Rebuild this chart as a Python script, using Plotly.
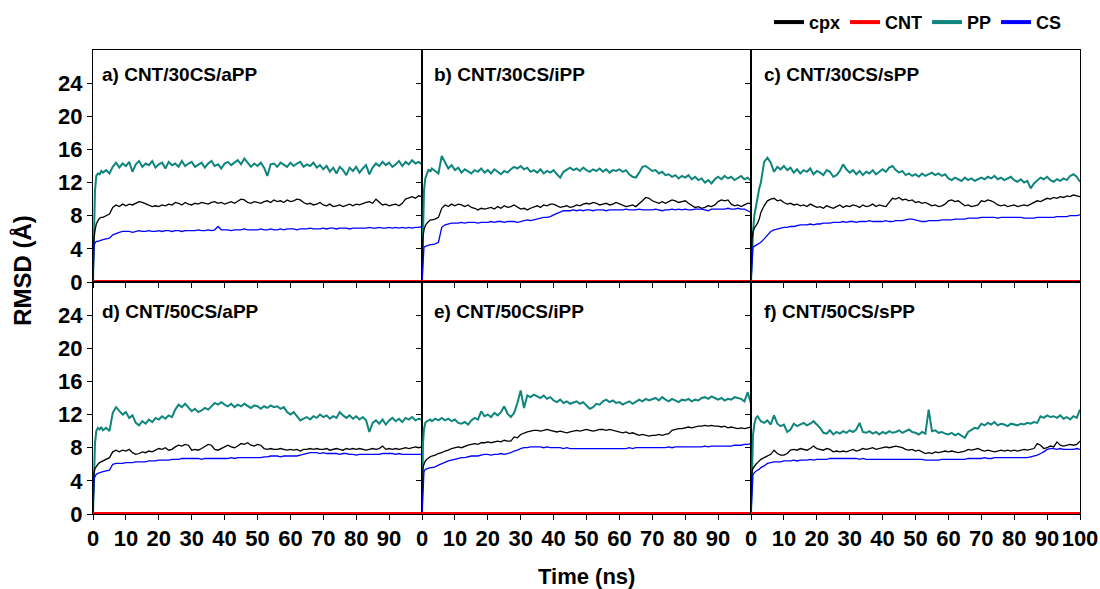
import plotly.graph_objects as go
from plotly.subplots import make_subplots

# ---------------- data ----------------
TIME = [0, 0.3, 0.6, 1, 1.5, 2, 2.5] + list(range(3, 101))

CNT_TIME = [0, 100]
CNT_RMSD = [0.1, 0.1]

# panel a) CNT/30CS/aPP
A_PP = [0.0, 6.5, 11.0, 12.8, 13.1, 13.0, 13.4,
        13.2, 13.5, 13.1, 13.9, 14.4, 13.8, 14.3,
        14.0, 14.5, 13.3, 14.2, 14.6, 13.9, 14.3, 14.1, 14.6, 13.8,
        14.2, 14.4, 13.7, 14.5, 14.1, 14.3, 13.9, 14.6, 14.0, 14.3,
        14.5, 13.9, 14.2, 14.4, 13.8, 14.3, 14.6, 14.0, 14.2, 13.7,
        14.3, 14.5, 14.1, 14.4, 14.7, 14.2, 14.9, 14.4, 13.9, 14.3,
        14.0, 14.4, 13.8, 12.8, 14.2, 14.3, 13.9, 14.4, 14.1, 13.9,
        14.4, 14.0, 14.3, 14.5, 13.9, 14.2, 14.0, 14.4, 13.8, 14.1,
        13.6, 14.0, 13.3, 13.8, 13.1, 13.9, 13.5, 12.9, 13.8, 13.4,
        13.9, 13.2, 13.7, 14.1, 13.0, 13.8, 14.3, 14.0, 14.5, 14.1,
        14.4, 13.9, 14.2, 14.6, 14.0, 14.5, 14.2, 14.7, 14.3, 14.5,
        14.2]
A_CPX = [0.0, 5.2, 6.2, 7.0, 7.4, 7.7, 7.8,
         7.8, 8.0, 8.2, 9.0, 9.3, 9.1, 9.4,
         9.2, 9.4, 9.3, 9.5, 9.7, 9.6, 9.4, 9.3, 9.1, 9.2,
         9.1, 9.3, 9.2, 9.4, 9.3, 9.6, 9.5, 9.3, 9.6, 9.4,
         9.3, 9.5, 9.4, 9.6, 9.5, 9.4, 9.6, 9.7, 9.5, 9.6,
         9.4, 9.6, 9.7, 9.5, 9.8, 10.0, 9.9, 9.6, 9.5, 9.7,
         9.6, 9.5, 9.7, 9.8, 9.6, 9.9, 9.7, 9.8, 9.6, 9.9,
         9.7, 9.8, 10.0, 9.9, 9.6, 9.4, 9.5, 9.3, 9.4, 9.6,
         9.3, 9.2, 9.4, 9.1, 9.2, 9.3, 9.1, 9.3, 9.4, 9.2,
         9.4, 9.3, 9.5, 9.6, 9.7, 9.5, 10.0, 9.6, 9.3, 9.4,
         9.2, 9.3, 9.4, 9.2, 9.5, 10.0, 10.2, 10.3, 10.1, 10.4,
         10.3]
A_CS = [0.0, 4.4, 4.7, 4.9, 4.9, 5.0, 5.0,
        5.1, 5.2, 5.3, 5.7, 5.9, 6.0, 6.1,
        6.1, 6.1, 6.0, 6.1, 6.2, 6.1, 6.1, 6.2, 6.1, 6.1,
        6.2, 6.1, 6.2, 6.2, 6.1, 6.2, 6.2, 6.1, 6.2, 6.2,
        6.2, 6.2, 6.3, 6.2, 6.2, 6.3, 6.2, 6.3, 6.7, 6.3,
        6.3, 6.3, 6.2, 6.3, 6.3, 6.3, 6.4, 6.3, 6.3, 6.3,
        6.3, 6.4, 6.3, 6.3, 6.4, 6.3, 6.3, 6.4, 6.3, 6.4,
        6.4, 6.4, 6.3, 6.4, 6.4, 6.4, 6.5, 6.4, 6.4, 6.4,
        6.5, 6.4, 6.5, 6.5, 6.4, 6.5, 6.5, 6.5, 6.4, 6.5,
        6.5, 6.5, 6.5, 6.5, 6.6, 6.5, 6.5, 6.6, 6.5, 6.5,
        6.6, 6.5, 6.6, 6.5, 6.6, 6.5, 6.6, 6.5, 6.6, 6.6,
        6.7]

# panel b) CNT/30CS/iPP
B_PP = [0.0, 8.0, 11.0, 12.5, 13.2, 13.6, 13.3,
        13.7, 13.4, 13.1, 15.2, 14.5, 13.7, 14.1,
        13.5, 13.8, 13.2, 13.6, 13.4, 13.1, 13.5, 13.3, 13.7, 13.2,
        13.5, 13.1, 13.6, 13.3, 13.0, 13.4, 13.2, 13.6, 13.9, 13.7,
        14.0, 13.6, 13.8, 13.3, 13.5, 13.2, 13.6, 13.1, 13.4, 13.2,
        13.5, 13.0, 12.6, 13.3, 13.6, 13.8, 13.5, 13.7, 13.4, 13.8,
        13.5, 13.3, 13.6, 13.4, 13.7, 13.3, 13.6, 13.2, 13.5, 13.4,
        13.6, 13.3, 13.5, 13.0, 12.7, 12.6, 13.2, 13.9, 14.0, 13.7,
        13.4, 13.5, 13.1, 13.3, 12.9, 13.0, 12.7, 12.9, 12.5, 12.8,
        12.6, 12.9, 12.4, 12.7, 12.3, 12.5, 12.0, 12.3, 11.9, 12.4,
        12.7, 12.4, 12.8, 12.5, 12.7, 12.3, 12.6, 12.8, 12.4, 12.6,
        12.2]
B_CPX = [0.0, 5.5, 6.3, 6.8, 7.1, 7.3, 7.5,
         7.5, 7.6, 7.8, 8.9, 9.3, 9.1, 9.4,
         9.2, 9.4, 9.3, 9.1, 9.3, 9.0, 8.9, 8.7, 8.9, 8.8,
         8.9, 9.0, 8.8, 9.1, 8.9, 9.2, 9.0, 9.1, 9.3, 9.1,
         8.8, 8.9, 8.7, 8.9, 9.1, 9.2, 9.0, 9.3, 9.2, 9.4,
         9.4, 9.2, 9.0, 9.1, 9.2, 9.0, 9.1, 9.3, 9.2, 9.4,
         9.5, 9.4, 9.6, 9.5, 9.3, 9.4, 9.5, 9.3, 9.4, 9.6,
         9.4, 9.3, 9.1, 9.2, 9.3, 9.1, 9.4, 9.8, 10.2, 10.1,
         9.8, 9.6, 9.5, 9.7, 9.5, 9.7, 9.9, 9.8, 9.6, 9.7,
         9.8, 9.5, 9.2, 9.0, 9.1, 8.9, 9.0, 9.2, 9.1, 9.3,
         9.7, 9.9, 9.8, 9.9, 9.4, 9.2, 9.3, 9.1, 9.3, 9.5,
         9.5]
B_CS = [0.0, 2.5, 4.2, 4.3, 4.4, 4.4, 4.5,
        4.5, 4.6, 4.8, 6.6, 6.9, 7.0, 7.1,
        7.1, 7.1, 7.2, 7.1, 7.2, 7.2, 7.2, 7.1, 7.2, 7.2,
        7.2, 7.3, 7.2, 7.3, 7.3, 7.2, 7.3, 7.3, 7.3, 7.2,
        7.3, 7.4, 7.5, 7.4, 7.5, 7.6, 7.7, 7.8, 7.8, 7.9,
        8.1, 8.3, 8.5, 8.6, 8.6, 8.6, 8.7, 8.6, 8.7, 8.6,
        8.7, 8.7, 8.6, 8.7, 8.7, 8.7, 8.6, 8.7, 8.7, 8.7,
        8.7, 8.7, 8.8, 8.7, 8.7, 8.7, 8.8, 8.7, 8.7, 8.7,
        8.7, 8.8, 8.7, 8.6, 8.7, 8.7, 8.8, 8.7, 8.8, 8.7,
        8.8, 8.7, 8.7, 8.8, 8.8, 8.8, 8.7, 8.6, 8.8, 8.8,
        8.8, 8.8, 8.8, 8.9, 8.8, 8.8, 8.9, 8.8, 8.8, 8.6,
        8.4]

# panel c) CNT/30CS/sPP
C_PP = [0.0, 3.5, 6.0, 8.0, 9.2, 10.5, 11.3,
        12.0, 14.5, 15.0, 14.4, 13.3, 13.9, 13.6,
        14.0, 13.5, 13.8, 13.2, 13.6, 13.1, 13.5, 13.3, 13.7, 13.0,
        13.4, 13.2, 12.9, 13.5, 13.3, 12.7, 12.9, 13.4, 14.2, 13.6,
        13.2, 13.5, 13.0, 13.4, 12.9, 13.3, 13.1, 13.5, 13.0, 13.3,
        13.6, 13.3, 13.8, 14.0, 13.5, 13.2, 13.4, 12.9, 13.1, 12.8,
        13.0, 12.7, 13.1, 12.8, 13.0, 13.2, 12.9, 13.1, 12.8, 13.0,
        12.5, 12.3, 12.6, 12.4, 12.2, 12.6, 12.3, 12.5, 12.2, 12.4,
        12.6, 12.4, 12.7, 12.5, 12.8, 12.4, 12.6, 12.3, 12.5, 12.7,
        12.3, 12.1, 12.4, 12.0, 12.2, 11.3, 11.9, 12.3, 12.6, 12.4,
        12.7, 12.3, 12.1, 12.4, 12.2, 12.5, 12.3, 12.8, 13.0, 12.7,
        12.1]
C_CPX = [0.0, 5.2, 6.0, 6.5, 6.8, 7.1, 7.6,
         8.4, 9.2, 9.8, 10.0, 10.1, 9.8, 9.9,
         9.6, 9.4, 9.5, 9.3, 9.4, 9.2, 9.3, 9.1, 9.4, 9.2,
         9.0, 9.1, 8.9, 9.2, 9.0, 8.9, 9.1, 9.3, 9.0, 9.2,
         9.1, 9.3, 9.2, 9.0, 9.3, 9.1, 9.2, 9.4, 9.1, 9.3,
         9.2, 9.1, 9.6, 10.1, 10.0, 10.2, 9.9, 10.0, 9.8, 9.9,
         9.6, 9.7, 9.5, 9.6, 9.4, 9.2, 9.3, 9.1, 9.2, 9.4,
         9.8, 9.9, 9.7, 9.8, 9.5, 9.2, 9.3, 9.1, 9.2, 9.3,
         9.8, 9.7, 9.9, 9.8, 9.6, 9.3, 9.2, 9.3, 9.1, 9.2,
         9.3, 9.1, 9.2, 9.3, 9.2, 9.4, 9.5, 9.8, 9.7, 9.9,
         10.1, 10.0, 10.2, 10.1, 10.3, 10.2, 10.4, 10.3, 10.5, 10.4,
         10.3]
C_CS = [0.0, 2.5, 4.2, 4.3, 4.4, 4.5, 4.6,
        4.8, 5.2, 5.6, 6.1, 6.3, 6.4, 6.5,
        6.6, 6.6, 6.7, 6.7, 6.8, 6.9, 6.9, 6.9, 7.0, 6.9,
        7.0, 7.0, 7.1, 7.1, 7.1, 7.2, 7.2, 7.2, 7.3, 7.2,
        7.3, 7.3, 7.2, 7.3, 7.3, 7.3, 7.4, 7.3, 7.3, 7.3,
        7.3, 7.4, 7.3, 7.3, 7.4, 7.4, 7.4, 7.5, 7.6, 7.6,
        7.5, 7.4, 7.3, 7.3, 7.4, 7.4, 7.4, 7.4, 7.5, 7.5,
        7.5, 7.5, 7.6, 7.6, 7.6, 7.6, 7.7, 7.7, 7.7, 7.7,
        7.8, 7.8, 7.8, 7.8, 7.8, 7.7, 7.8, 7.8, 7.8, 7.8,
        7.8, 7.8, 7.8, 7.7, 7.7, 7.7, 7.7, 7.8, 7.8, 7.8,
        7.8, 7.8, 7.8, 7.9, 7.9, 7.9, 7.9, 8.0, 8.0, 8.0,
        8.1]

# panel d) CNT/50CS/aPP
D_PP = [0.0, 6.5, 8.5, 10.0, 10.4, 10.2, 10.5,
        10.1, 10.4, 10.0, 12.2, 12.9, 12.4, 12.0,
        12.3, 11.6, 11.9, 11.0, 10.7, 11.2, 10.9, 11.4, 11.1, 11.6,
        11.4, 11.8, 11.5, 11.9, 11.7, 12.6, 13.2, 12.9, 13.3, 12.8,
        12.4, 12.7, 12.3, 12.5, 12.8, 12.6, 13.0, 13.4, 13.2, 13.5,
        13.2, 13.0, 13.3, 12.9, 13.2, 13.0, 13.3, 13.1, 12.8, 13.1,
        13.0, 12.7, 13.0, 12.8, 13.1, 12.9, 13.0, 12.7, 12.9, 12.3,
        12.0, 12.3, 11.8, 11.3, 11.5, 11.7, 11.4, 11.8, 11.6, 12.0,
        11.7, 11.9, 11.5, 11.8, 11.6, 12.3, 11.9, 11.6, 11.9, 11.5,
        11.8, 11.4, 11.7, 11.3, 9.9, 11.0, 11.3, 10.9, 11.4, 10.8,
        11.3, 11.6, 11.2, 11.5, 11.1, 11.6, 11.4, 11.7, 11.3, 11.5,
        11.4]
D_CPX = [0.0, 5.0, 5.5, 5.8, 6.0, 6.2, 6.3,
         6.4, 6.6, 6.8, 7.5, 7.7, 7.5, 7.7,
         7.6, 7.8, 7.4, 7.2, 7.3, 7.5, 7.4, 7.6, 7.5, 7.7,
         7.9, 7.8, 8.0, 7.7, 7.8, 8.1, 8.3, 8.2, 8.4, 8.3,
         7.7, 7.8, 7.7, 7.9, 8.2, 8.4, 8.3, 7.8, 7.7, 7.9,
         8.2, 8.3, 8.1, 8.0, 8.2, 8.5, 8.4, 8.6, 8.3, 8.2,
         8.4, 8.3, 7.9, 7.8, 7.9, 7.8, 7.8, 7.9, 7.8, 7.7,
         7.8, 7.7, 7.8, 7.6, 7.8, 7.8, 7.9, 7.8, 7.9, 7.8,
         7.8, 7.9, 7.7, 7.8, 7.9, 7.8, 7.7, 7.9, 7.8, 7.9,
         7.8, 7.9, 7.8, 7.7, 7.8, 7.9, 7.8, 7.9, 8.2, 7.8,
         7.9, 7.8, 7.9, 7.8, 7.9, 8.0, 7.9, 8.0, 8.1, 8.0,
         8.1]
D_CS = [0.0, 4.2, 4.5, 4.8, 4.9, 5.0, 5.0,
        5.1, 5.2, 5.3, 6.0, 6.1, 6.1, 6.1,
        6.2, 6.2, 6.2, 6.3, 6.3, 6.3, 6.3, 6.4, 6.4, 6.4,
        6.5, 6.5, 6.5, 6.5, 6.6, 6.6, 6.6, 6.7, 6.7, 6.7,
        6.7, 6.7, 6.7, 6.6, 6.7, 6.7, 6.7, 6.7, 6.7, 6.7,
        6.7, 6.7, 6.8, 6.7, 6.8, 6.8, 6.8, 6.8, 6.8, 6.8,
        6.8, 6.8, 6.9, 6.9, 7.0, 7.0, 7.0, 6.9, 7.0, 7.0,
        7.0, 7.0, 7.0, 7.1, 7.2, 7.3, 7.4, 7.4, 7.4, 7.3,
        7.4, 7.3, 7.3, 7.3, 7.3, 7.2, 7.3, 7.3, 7.2, 7.2,
        7.1, 7.2, 7.2, 7.2, 7.2, 7.2, 7.2, 7.2, 7.3, 7.3,
        7.3, 7.3, 7.2, 7.3, 7.2, 7.2, 7.2, 7.2, 7.2, 7.2,
        7.2]

# panel e) CNT/50CS/iPP
E_PP = [0.0, 8.5, 10.2, 11.0, 11.2, 11.3, 11.4,
        11.2, 11.5, 11.3, 11.6, 11.3, 11.5, 11.2,
        11.4, 11.0, 10.9, 11.1, 10.8, 11.3, 11.6, 11.4, 12.4, 11.8,
        12.0, 11.7, 12.2, 11.9, 12.3, 13.0, 12.1, 11.7, 12.2, 13.4,
        14.9, 12.8, 14.3, 14.1, 14.4, 14.2, 14.0, 14.3, 13.9, 14.1,
        13.7, 13.5, 13.8, 13.4, 13.6, 13.3, 13.5, 13.6, 13.3, 13.5,
        13.1, 12.7, 12.9, 13.3, 13.2, 13.6, 13.8, 13.5, 13.7, 13.4,
        13.5, 13.2, 13.4, 13.6, 13.3, 13.5, 13.8, 13.6, 13.9, 13.7,
        13.9, 14.0, 13.7, 14.1, 13.8, 13.6, 13.9, 13.7, 13.5, 13.8,
        13.7, 13.9, 13.6, 13.8, 13.7, 14.0, 14.1, 13.9, 14.2, 14.0,
        13.8, 14.0, 13.7, 13.9, 13.8, 14.1, 14.0, 13.9, 13.6, 14.7,
        13.3]
E_CPX = [0.0, 5.6, 6.0, 6.4, 6.6, 6.8, 6.9,
         7.0, 7.1, 7.3, 7.4, 7.6, 7.7, 7.9,
         8.0, 8.1, 8.0, 8.2, 8.3, 8.4, 8.5, 8.4, 8.6, 8.6,
         8.7, 8.6, 8.7, 8.8, 8.7, 8.9, 8.8, 8.8, 9.3, 9.2,
         9.6, 9.8, 9.9, 10.0, 10.1, 10.1, 10.0, 10.1, 10.2, 10.1,
         10.0, 9.9, 10.0, 9.9, 9.8, 9.9, 10.0, 10.1, 10.0, 10.1,
         10.2, 10.1, 10.0, 10.1, 10.2, 10.2, 10.1, 10.2, 10.1, 10.0,
         9.9, 9.8, 9.9, 9.7, 9.8, 9.6, 9.5, 9.6, 9.5, 9.4,
         9.5, 9.5, 9.6, 9.5, 9.6, 9.7, 10.1, 10.2, 10.3, 10.3,
         10.4, 10.5, 10.4, 10.5, 10.6, 10.6, 10.7, 10.6, 10.7, 10.6,
         10.6, 10.5, 10.6, 10.4, 10.5, 10.4, 10.3, 10.4, 10.3, 10.4,
         10.5]
E_CS = [0.0, 2.6, 5.1, 5.4, 5.5, 5.5, 5.6,
        5.6, 5.7, 5.9, 6.1, 6.3, 6.4, 6.5,
        6.6, 6.7, 6.8, 6.8, 6.9, 7.0, 7.0, 7.0, 7.1, 7.2,
        7.2, 7.1, 7.2, 7.2, 7.3, 7.2, 7.3, 7.4, 7.6, 7.7,
        7.9, 8.0, 8.0, 8.1, 8.1, 8.1, 8.1, 8.0, 8.1, 8.0,
        8.0, 8.0, 8.0, 7.9, 8.0, 7.9, 7.9, 7.9, 7.9, 7.9,
        7.9, 7.9, 7.9, 7.9, 7.9, 7.9, 7.9, 7.9, 7.9, 7.9,
        7.9, 7.9, 7.9, 8.0, 7.9, 8.0, 8.0, 8.0, 8.0, 8.0,
        8.0, 8.0, 8.0, 8.0, 8.0, 8.1, 8.0, 8.1, 8.1, 8.1,
        8.1, 8.1, 8.1, 8.1, 8.1, 8.1, 8.2, 8.1, 8.2, 8.2,
        8.2, 8.2, 8.2, 8.2, 8.2, 8.3, 8.3, 8.3, 8.4, 8.4,
        8.5]

# panel f) CNT/50CS/sPP
F_PP = [0.0, 7.0, 9.5, 10.8, 11.6, 11.8, 11.5,
        11.2, 11.0, 11.3, 10.8, 11.9, 10.9, 10.6,
        10.8, 9.9, 10.2, 10.9, 10.6, 10.8, 11.0, 10.7, 10.9, 11.2,
        10.8, 10.4, 9.8, 9.7, 10.1, 9.6, 9.9, 9.7, 10.0, 9.8,
        10.1, 9.9, 10.2, 11.0, 9.9, 9.8, 10.0, 9.7, 9.9, 9.6,
        9.9, 9.7, 10.0, 9.8, 9.9, 10.1, 9.8, 10.0, 10.2, 9.9,
        9.8, 9.6, 9.9, 9.7, 12.6, 10.0, 10.1, 9.8, 9.9, 9.7,
        9.6, 9.8, 9.5, 9.7, 9.4, 9.2, 9.9, 10.1, 10.4, 10.3,
        10.9, 10.7, 11.0, 10.8, 11.1, 10.7, 10.9, 10.8, 10.6, 10.9,
        10.8, 10.7, 10.9, 10.8, 11.0, 10.9, 11.1, 11.0, 11.8, 11.6,
        11.9, 11.7, 11.8, 11.6, 11.9, 11.5, 11.7, 11.4, 11.8, 11.6,
        12.6]
F_CPX = [0.0, 5.2, 5.5, 5.8, 6.0, 6.2, 6.4,
         6.6, 6.8, 7.0, 7.2, 7.7, 7.3, 7.1,
         7.1, 7.3, 7.7, 7.8, 7.7, 7.9, 7.8, 7.7, 7.9, 8.2,
         7.9, 7.8, 7.7, 7.9, 7.8, 7.5, 7.6, 7.5, 7.6, 7.5,
         7.7, 7.8, 7.6, 7.7, 7.9, 7.8, 7.9, 8.0, 7.8, 7.9,
         8.0, 8.1, 8.0, 8.1, 8.2, 8.1, 8.0, 7.8, 7.7, 7.8,
         7.6, 7.7, 7.5, 7.3, 7.4, 7.3, 7.5, 7.4, 7.5, 7.6,
         7.5, 7.6, 7.5, 7.4, 7.5, 7.6, 7.8, 7.7, 7.8, 7.9,
         7.7, 7.6, 7.7, 7.6, 7.5, 7.6, 7.7, 7.6, 7.7, 7.6,
         7.7, 7.6, 7.7, 7.8, 7.7, 7.8, 7.9, 8.5, 8.3, 7.9,
         8.0, 8.2, 8.1, 8.7, 8.3, 8.2, 8.3, 8.4, 8.3, 8.4,
         8.8]
F_CS = [0.0, 2.6, 4.7, 5.0, 5.2, 5.3, 5.4,
        5.6, 5.8, 6.1, 6.2, 6.3, 6.3, 6.3,
        6.4, 6.4, 6.4, 6.5, 6.4, 6.5, 6.5, 6.5, 6.6, 6.5,
        6.6, 6.6, 6.6, 6.6, 6.7, 6.7, 6.7, 6.7, 6.7, 6.7,
        6.7, 6.7, 6.7, 6.6, 6.7, 6.6, 6.6, 6.6, 6.6, 6.6,
        6.6, 6.6, 6.6, 6.6, 6.6, 6.6, 6.6, 6.6, 6.6, 6.6,
        6.6, 6.6, 6.6, 6.5, 6.5, 6.5, 6.5, 6.5, 6.6, 6.6,
        6.6, 6.6, 6.6, 6.6, 6.6, 6.6, 6.7, 6.7, 6.7, 6.7,
        6.7, 6.8, 6.7, 6.7, 6.8, 6.8, 6.8, 6.8, 6.8, 6.8,
        6.8, 6.8, 6.8, 6.8, 6.8, 6.9, 7.0, 7.1, 7.3, 7.5,
        7.8, 7.9, 7.9, 7.8, 7.9, 7.8, 7.8, 7.8, 7.8, 7.9,
        7.8]

PANEL_LABELS = ["a) CNT/30CS/aPP", "b) CNT/30CS/iPP", "c) CNT/30CS/sPP",
                "d) CNT/50CS/aPP", "e) CNT/50CS/iPP", "f) CNT/50CS/sPP"]
PANEL_DATA = [(A_CPX, A_PP, A_CS), (B_CPX, B_PP, B_CS), (C_CPX, C_PP, C_CS),
              (D_CPX, D_PP, D_CS), (E_CPX, E_PP, E_CS), (F_CPX, F_PP, F_CS)]
SERIES_NAMES = ["cpx", "CNT", "PP", "CS"]
Y_TICKS = [0, 4, 8, 12, 16, 20, 24]
X_TICKS = [0, 10, 20, 30, 40, 50, 60, 70, 80, 90]
X_TICKS_LAST = X_TICKS + [100]

for lbl, arrs in zip(PANEL_LABELS, PANEL_DATA):
    for a in arrs:
        assert len(a) == len(TIME), (lbl, len(a), len(TIME))

# ---------------- styling ----------------
COLORS = {"cpx": "#000000", "CNT": "#ff0000", "PP": "#0e857d", "CS": "#0000ff"}
FONT = "Liberation Sans, Arial, Helvetica, sans-serif"

fig = make_subplots(rows=2, cols=3, horizontal_spacing=0, vertical_spacing=0)

for i, (lbl, (cpx, pp, cs)) in enumerate(zip(PANEL_LABELS, PANEL_DATA)):
    r, c = i // 3 + 1, i % 3 + 1
    fig.add_trace(go.Scatter(x=TIME, y=pp, mode="lines", showlegend=False,
                             line=dict(color=COLORS["PP"], width=2.0)), row=r, col=c)
    fig.add_trace(go.Scatter(x=TIME, y=cpx, mode="lines", showlegend=False,
                             line=dict(color=COLORS["cpx"], width=1.3)), row=r, col=c)
    fig.add_trace(go.Scatter(x=TIME, y=cs, mode="lines", showlegend=False,
                             line=dict(color=COLORS["CS"], width=1.3)), row=r, col=c)
    fig.add_trace(go.Scatter(x=CNT_TIME, y=CNT_RMSD, mode="lines", showlegend=False,
                             line=dict(color=COLORS["CNT"], width=2.5)), row=r, col=c)

# legend proxies (thicker symbols, as in the reference)
for name in SERIES_NAMES:
    fig.add_trace(go.Scatter(x=[None], y=[None], mode="lines", name=name,
                             line=dict(color=COLORS[name], width=4)), row=1, col=1)

axis_common = dict(showgrid=False, zeroline=False, ticks="outside", ticklen=5,
                   tickcolor="black", tickwidth=1, linecolor="black", linewidth=1,
                   mirror=True, layer="below traces", automargin=False,
                   tickfont=dict(family=FONT, size=22, color="black", weight="bold"))

for i in range(6):
    r, c = i // 3 + 1, i % 3 + 1
    fig.update_xaxes(range=[0, 100], tickvals=X_TICKS_LAST if c == 3 else X_TICKS,
                     showticklabels=(r == 2), tickangle=0, row=r, col=c, **axis_common)
    fig.update_yaxes(range=[0, 28], tickvals=Y_TICKS, showticklabels=(c == 1),
                     row=r, col=c, **axis_common)

annotations = []
title_x = {1: 2.1, 2: 2.9, 3: 3.3}
for i, lbl in enumerate(PANEL_LABELS):
    r, c = i // 3 + 1, i % 3 + 1
    n = "" if i == 0 else str(i + 1)
    annotations.append(dict(text=lbl, xref="x" + n, yref="y" + n,
                            x=title_x[c], y=25.0 if r == 1 else 24.4,
                            xanchor="left", yanchor="middle", showarrow=False,
                            font=dict(family=FONT, size=19, color="black", weight="bold")))

annotations.append(dict(text="Time (ns)", xref="paper", yref="paper", x=0.5, y=-0.134,
                        xanchor="center", yanchor="middle", showarrow=False,
                        font=dict(family=FONT, size=22, color="black", weight="bold")))
annotations.append(dict(text="RMSD (Å)", xref="paper", yref="paper", x=-0.071, y=0.526,
                        xanchor="center", yanchor="middle", showarrow=False, textangle=-90,
                        font=dict(family=FONT, size=24, color="black", weight="bold")))

fig.update_layout(
    width=1100, height=589,
    margin=dict(l=93, r=20, t=50, b=75, autoexpand=False),
    paper_bgcolor="white", plot_bgcolor="white",
    annotations=annotations,
    legend=dict(orientation="h", xref="container", yref="container",
                x=0.97, xanchor="right", y=0.962, yanchor="middle",
                font=dict(family=FONT, size=18, color="black", weight="bold"),
                bgcolor="rgba(0,0,0,0)", itemwidth=30, tracegroupgap=0),
)

fig.write_html("out.html")
